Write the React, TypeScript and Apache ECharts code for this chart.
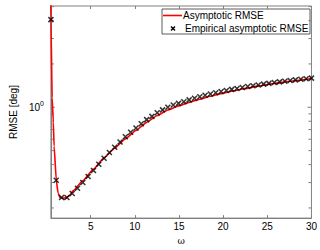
import React, { useEffect, useRef } from 'react';
import * as echarts from 'echarts';

const X_MIN = 0.5;
const X_MAX = 30;
const Y_MIN = 0.17;
const Y_MAX = 5.05;

// Asymptotic RMSE (red line)
const asymOmega = [0.48, 0.5, 0.64, 0.77, 0.86, 1.11, 1.31, 1.52, 1.79, 2.22, 2.54, 3.07, 4.11, 5.32, 6.52, 7.72, 8.93, 10.13, 11.34, 12.54, 13.74, 14.95, 16.15, 17.36, 18.56, 19.77, 20.97, 22.17, 23.98, 25.79, 27.59, 30.0];
const asymRmse = [5.6, 4.06, 1.169, 0.792, 0.537, 0.311, 0.254, 0.237, 0.234, 0.235, 0.242, 0.265, 0.309, 0.372, 0.445, 0.52, 0.603, 0.69, 0.786, 0.876, 0.957, 1.022, 1.081, 1.138, 1.192, 1.243, 1.291, 1.338, 1.402, 1.462, 1.517, 1.585];

// Empirical asymptotic RMSE (black crosses)
const empOmega = [0.5, 1.1, 1.7, 2.31, 2.91, 3.51, 4.11, 4.71, 5.32, 5.92, 6.52, 7.12, 7.72, 8.33, 8.93, 9.53, 10.13, 10.73, 11.34, 11.94, 12.54, 13.14, 13.74, 14.35, 14.95, 15.55, 16.15, 16.76, 17.36, 17.96, 18.56, 19.16, 19.77, 20.37, 20.97, 21.57, 22.17, 22.78, 23.38, 23.98, 24.58, 25.18, 25.79, 26.39, 26.99, 27.59, 28.19, 28.8, 29.4, 30.0];
const empRmse = [4.06, 0.311, 0.236, 0.236, 0.252, 0.274, 0.3, 0.331, 0.364, 0.402, 0.442, 0.485, 0.528, 0.574, 0.624, 0.671, 0.718, 0.768, 0.821, 0.865, 0.915, 0.959, 1.0, 1.036, 1.064, 1.093, 1.126, 1.155, 1.183, 1.211, 1.238, 1.263, 1.287, 1.309, 1.331, 1.352, 1.373, 1.393, 1.413, 1.43, 1.448, 1.466, 1.484, 1.501, 1.517, 1.534, 1.55, 1.565, 1.579, 1.594];

const xTickValues = [5, 10, 15, 20, 25, 30];
const yMinorTicks = [0.2, 0.3, 0.4, 0.5, 0.6, 0.7, 0.8, 0.9, 2, 3, 4, 5];
const yMajorTicks = [1];

const legendNames = ['Asymptotic RMSE', 'Empirical asymptotic RMSE'];

const AXIS_COLOR = '#808080';
const FONT = '"Liberation Sans", Arial, sans-serif';

export default function App() {
  const ref = useRef<HTMLDivElement>(null);
  useEffect(() => {
    if (!ref.current) return;
    document.body.style.margin = '0';
    const chart = echarts.init(ref.current, null, { renderer: 'svg' });
    const tickData = [
      ...yMinorTicks.map((v) => [X_MIN, v, 0]),
      ...yMajorTicks.map((v) => [X_MIN, v, 1]),
    ];
    const lx = 162;
    const ly = 9;
    const lw = 148;
    const lh = 25;
    chart.setOption({
      animation: false,
      backgroundColor: '#fff',
      grid: {
        left: 36,
        right: 8,
        top: 6,
        bottom: 26,
        show: true,
        borderColor: AXIS_COLOR,
        borderWidth: 1,
        backgroundColor: '#fff',
      },
      graphic: [
        {
          type: 'group',
          z: 100,
          children: [
            { type: 'rect', shape: { x: lx, y: ly, width: lw, height: lh }, style: { fill: '#fff', stroke: '#333', lineWidth: 0.8 } },
            { type: 'line', shape: { x1: lx + 1, y1: ly + 6.5, x2: lx + 20, y2: ly + 6.5 }, style: { stroke: '#ff0000', lineWidth: 1.6 } },
            { type: 'text', x: lx + 21, y: ly + 6.5, style: { text: legendNames[0], fontFamily: FONT, fontSize: 10, fill: '#000', verticalAlign: 'middle' } },
            { type: 'line', shape: { x1: lx + 9, y1: ly + 17.5, x2: lx + 13, y2: ly + 21.5 }, style: { stroke: '#000', lineWidth: 1.5 } },
            { type: 'line', shape: { x1: lx + 9, y1: ly + 21.5, x2: lx + 13, y2: ly + 17.5 }, style: { stroke: '#000', lineWidth: 1.5 } },
            { type: 'text', x: lx + 23, y: ly + 19.5, style: { text: legendNames[1], fontFamily: FONT, fontSize: 10, fill: '#000', verticalAlign: 'middle' } },
          ],
        },
      ],
      xAxis: [
        {
          type: 'value',
          min: X_MIN,
          max: X_MAX,
          name: 'ω',
          nameLocation: 'middle',
          nameGap: 13,
          nameTextStyle: { fontFamily: '"DejaVu Serif", serif', fontSize: 9, color: '#000' },
          splitLine: { show: false },
          axisLine: { show: true, lineStyle: { color: AXIS_COLOR } },
          axisTick: { show: true, inside: true, length: 3, lineStyle: { color: AXIS_COLOR }, customValues: xTickValues },
          axisLabel: { fontFamily: FONT, fontSize: 10, color: '#000', margin: 3, customValues: xTickValues },
        },
        {
          type: 'value',
          position: 'top',
          min: X_MIN,
          max: X_MAX,
          splitLine: { show: false },
          axisLine: { show: false },
          axisTick: { show: true, inside: true, length: 3, lineStyle: { color: AXIS_COLOR }, customValues: xTickValues },
          axisLabel: { show: false },
        },
      ],
      yAxis: {
        type: 'log',
        logBase: 10,
        min: Y_MIN,
        max: Y_MAX,
        name: 'RMSE [deg]',
        nameLocation: 'middle',
        nameGap: 26,
        nameTextStyle: { fontFamily: FONT, fontSize: 10, color: '#000' },
        splitLine: { show: false },
        axisLine: { show: true, lineStyle: { color: AXIS_COLOR } },
        axisTick: { show: false },
        axisLabel: {
          margin: 7,
          formatter: (v: number) => (Math.abs(v - 1) < 1e-6 ? '{b|10}{s|0}' : ''),
          rich: {
            b: { fontFamily: FONT, fontSize: 10, color: '#000' },
            s: { fontFamily: FONT, fontSize: 7, color: '#000', verticalAlign: 'bottom', padding: [0, 0, 7, 0] },
          },
        },
      },
      series: [
        {
          name: legendNames[0],
          type: 'line',
          data: asymOmega.map((x, i) => [x, asymRmse[i]]),
          symbol: 'none',
          smooth: 0.15,
          smoothMonotone: 'x',
          lineStyle: { color: '#ff0000', width: 1.6 },
          itemStyle: { color: '#ff0000' },
          clip: true,
          z: 2,
        },
        {
          name: legendNames[1],
          type: 'scatter',
          data: empOmega.map((x, i) => [x, empRmse[i]]),
          symbol: 'path://M0,0L10,10M0,10L10,0',
          symbolSize: 5,
          symbolKeepAspect: true,
          itemStyle: { color: 'none', borderColor: '#000', borderWidth: 1.5 },
          z: 3,
        },
        {
          name: 'yticks',
          type: 'custom',
          silent: true,
          clip: false,
          data: tickData,
          renderItem: (params: any, api: any) => {
            const v = api.value(1);
            const major = api.value(2) === 1;
            const pl = api.coord([X_MIN, v]);
            const pr = api.coord([X_MAX, v]);
            const len = major ? 4 : 3;
            const style = { stroke: AXIS_COLOR, lineWidth: 1 };
            return {
              type: 'group',
              children: [
                { type: 'line', shape: { x1: pl[0], y1: pl[1], x2: pl[0] + len, y2: pl[1] }, style },
                { type: 'line', shape: { x1: pr[0], y1: pr[1], x2: pr[0] - len, y2: pr[1] }, style },
              ],
            };
          },
          z: 1,
        },
      ],
    });
    return () => chart.dispose();
  }, []);
  return <div ref={ref} style={{ width: 320, height: 250 }} />;
}
